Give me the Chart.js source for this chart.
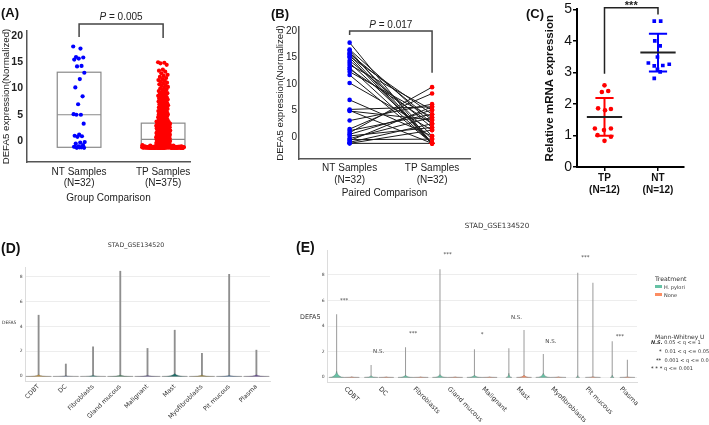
<!DOCTYPE html>
<html>
<head>
<meta charset="utf-8">
<script src="https://cdn.jsdelivr.net/npm/chart.js@4.4.1/dist/chart.umd.min.js"></script>
<style>
  body { margin: 0; width: 709px; height: 425px; overflow: hidden; position: relative; background: #fff; }
  canvas { position: absolute; }
  .t { position: absolute; white-space: nowrap; line-height: 1; transform: translateY(-50%); color: #333; }
  .panel { font: bold 13px "Liberation Sans", Arial, sans-serif; color: #111; }
  .mpl { font-family: "DejaVu Sans", sans-serif; }
  .sw { position: absolute; width: 7px; height: 3px; }
</style>
</head>
<body>
<canvas id="chartA" width="240" height="210" style="left:0;top:0"></canvas>
<canvas id="chartB" width="240" height="210" style="left:240px;top:0"></canvas>
<canvas id="chartC" width="229" height="210" style="left:480px;top:0"></canvas>
<canvas id="chartD" width="280" height="210" style="left:0;top:215px"></canvas>
<canvas id="chartE" width="429" height="210" style="left:280px;top:215px"></canvas>

<div class="t panel" style="left:1px;top:12px">(A)</div>
<div class="t panel" style="left:271px;top:13px">(B)</div>
<div class="t panel" style="left:526px;top:13px">(C)</div>
<div class="t panel" style="left:1px;top:248px;font-size:14px">(D)</div>
<div class="t panel" style="left:296px;top:247px;font-size:14px">(E)</div>

<div class="t mpl" style="left:136px;top:245px;font-size:6.3px;transform:translate(-50%,-50%)">STAD_GSE134520</div>
<div class="t mpl" style="left:497px;top:226px;font-size:7.2px;transform:translate(-50%,-50%)">STAD_GSE134520</div>
<div class="t mpl" style="left:2px;top:323px;font-size:4.5px">DEFA5</div>
<div class="t mpl" style="left:300px;top:317px;font-size:6.4px">DEFA5</div>

<div class="t mpl" style="left:655px;top:279px;font-size:6.2px">Treatment</div>
<div class="sw" style="left:655px;top:285px;background:#66c2a5"></div>
<div class="t mpl" style="left:664px;top:287px;font-size:5px">H. pylori</div>
<div class="sw" style="left:655px;top:293px;background:#fc8d62"></div>
<div class="t mpl" style="left:664px;top:295px;font-size:5px">None</div>
<div class="t mpl" style="left:655px;top:337px;font-size:6px">Mann-Whitney U</div>
<div class="t mpl" style="left:651px;top:342px;font-size:5px"><b><i>N.S.</i></b> 0.05 &lt; q &lt;= 1</div>
<div class="t mpl" style="left:659px;top:351px;font-size:5px"><b>*</b>&nbsp; 0.01 &lt; q &lt;= 0.05</div>
<div class="t mpl" style="left:656px;top:360px;font-size:5px"><b>**</b>&nbsp; 0.001 &lt; q &lt;= 0.01</div>
<div class="t mpl" style="left:651px;top:368px;font-size:5px"><b>* * *</b> q &lt;= 0.001</div>

<script>
// ---- (A) group comparison ----
const groupsA = ["NT Samples", "TP Samples"];
const sizesA = ["(N=32)", "(N=375)"];
const ntA = [18.0, 17.6, 16.0, 15.9, 15.7, 15.5, 14.3, 14.2, 13.0, 11.8, 10.2, 8.5, 7.0, 5.1, 5.0, 5.0,
  3.3, 1.2, 1.0, 0.9, 0.8, -0.2, -0.3, -0.5, -0.8, -1.0, -1.1, -1.2, -1.3, -1.3, -1.2, -1.1];
const tpA = [
  15.0, 14.9, 14.8, 14.5, 13.6, 13.4, 13.2, 12.9, 12.6, 12.4, 12.2, 12.0,
  11.8, 11.6, 11.5, 11.3, 11.1, 11.0, 10.8, 10.6, 10.5, 10.3, 10.1, 10.0, 9.8, 9.7, 9.5,
  9.4, 9.2, 9.1, 9.0, 8.9, 8.8, 8.7, 8.6, 8.5, 8.4, 8.3, 8.2, 8.1, 8.0, 8.0,
  7.9, 7.8, 7.8, 7.7, 7.6, 7.5, 7.4, 7.3, 7.2, 7.1, 7.0, 7.0, 6.9, 6.8, 6.7, 6.6, 6.5, 6.4, 6.4, 6.3,
  6.2, 6.1, 6.0, 6.0, 5.9, 5.8, 5.7, 5.6, 5.6, 5.5, 5.4, 5.3, 5.3, 5.2, 5.1, 5.1, 5.0, 5.0, 5.0, 5.0,
  4.9, 4.9, 4.8, 4.8, 4.7, 4.6, 4.6, 4.5, 4.4, 4.4, 4.3, 4.2, 4.2, 4.1, 4.0, 4.0, 3.9, 3.9, 3.8, 3.8,
  3.7, 3.7, 3.6, 3.6, 3.5, 3.5, 3.4, 3.4, 3.3, 3.3, 3.2, 3.2, 3.1, 3.1, 3.1, 3.0, 3.0, 3.0, 3.0, 3.0,
  2.9, 2.9, 2.8, 2.8, 2.8, 2.7, 2.7, 2.6, 2.6, 2.6, 2.5, 2.5, 2.4, 2.4, 2.4, 2.3, 2.3, 2.2, 2.2, 2.2,
  2.1, 2.1, 2.0, 2.0, 2.0, 1.9, 1.9, 1.8, 1.8, 1.8, 1.7, 1.7, 1.6, 1.6, 1.6, 1.5, 1.5, 1.4, 1.4, 1.4,
  1.3, 1.3, 1.2, 1.2, 1.2, 1.1, 1.1, 1.0, 1.0, 1.0,
  0.9, 0.9, 0.9, 0.8, 0.8, 0.8, 0.7, 0.7, 0.7, 0.6, 0.6, 0.6, 0.5, 0.5, 0.5, 0.4, 0.4, 0.4, 0.3, 0.3,
  0.3, 0.2, 0.2, 0.2, 0.1, 0.1, 0.1, 0.0, 0.0, 0.0, -0.1, -0.1, -0.1, -0.2, -0.2, -0.2, -0.3, -0.3, -0.3, -0.4,
  -0.4, -0.4, -0.5, -0.5, -0.5, -0.6, -0.6, -0.6, -0.7, -0.7,
  -1.2, -1.3, -1.2, -1.1, -1.2, -1.3, -1.2, -1.0, -1.2, -1.3, -1.1, -1.2, -0.9, -1.2, -1.3, -1.2, -1.1,
  -1.3, -1.2, -1.2, -1.1, -1.3, -1.2, -1.0, -1.2, -1.2, -1.3, -1.1, -1.2, -1.2, -0.9, -1.3, -1.2, -1.2,
  -1.2, -1.1, -1.3, -1.2, -1.2, -1.0, -1.3, -1.2, -1.1, -1.2, -1.3, -1.2, -0.8, -1.2, -1.1, -1.3, -1.2,
  -1.1, -1.2, -1.3, -1.2, -0.9, -1.2, -1.3, -1.1, -1.2, -1.2, -1.3, -1.0, -1.2, -1.1, -1.3, -1.2, -1.2,
  -1.3, -1.2, -1.1, -1.2, -1.3, -1.2, -1.0, -1.2, -1.3, -1.1, -1.2, -1.2, -0.9, -1.3, -1.2, -1.1, -1.2,
  -1.2, -1.3, -1.2, -1.1, -1.2, -1.3, -1.2, -1.0, -1.1, -1.3, -1.2, -1.2, -1.1, -1.2, -1.3, -0.8, -1.2,
  -1.1, -1.2, -1.3, -1.2, -1.2, -1.0, -1.3, -1.2, -1.1, -1.2, -1.3, -1.2, -0.9, -1.2, -1.1, -1.3, -1.2,
  -1.3, -1.2, -1.2, -1.1, -1.3, -1.2, -1.0, -1.2, -1.2, -1.3, -1.1, -1.2, -1.2, -1.3, -1.2, -1.1, -1.2,
  -1.2, -1.1, -1.3, -1.2, -1.2, -0.9, -1.3, -1.2, -1.1, -1.2, -1.3, -1.2, -1.0, -1.2, -1.1, -1.3, -1.2
];
const boxLowA = [-1.2, -1.2];
const boxMedA = [5.0, 0.3];
const boxHighA = [13.1, 3.4];
const pValueA = "0.005";
const yTicksAB = [0, 5, 10, 15, 20];

// ---- (B) paired comparison ----
const groupsB = ["NT Samples", "TP Samples"];
const sizesB = ["(N=32)", "(N=32)"];
const ntB = [17.8, 16.5, 16.3, 15.9, 15.7, 15.5, 15.2, 15.0, 14.4, 14.0, 13.6, 13.1, 12.8, 12.3, 11.7, 10.2,
  7.0, 5.2, 5.0, 4.9, 3.1, 1.5, 1.2, 0.8, 0.5, 0.2, -0.3, -0.5, -0.7, -1.0, -1.2, -1.2];
const tpB = [-1.2, 2.5, -1.2, 0.2, 3.2, -1.2, 4.3, -1.2, 1.8, -0.4, 5.1, -1.2, 2.5, 3.7, -1.2, 1.3,
  0.2, 5.7, -1.2, 3.2, 6.2, 8.2, 4.3, 9.4, 5.1, 1.8, 3.7, -0.4, 5.7, 2.5, -1.2, 1.3];
const pValueB = "0.017";

// ---- (C) qPCR ----
const groupsC = ["TP", "NT"];
const sizesC = ["(N=12)", "(N=12)"];
const tpC = [2.59, 2.38, 2.41, 1.86, 1.84, 1.80, 1.22, 1.22, 1.17, 1.01, 0.96, 0.83];
const tpJitterC = [0, -0.05, 0.07, -0.12, 0.12, 0.01, -0.18, 0.12, -0.01, -0.13, 0.12, 0];
const ntC = [4.63, 4.63, 4.0, 3.84, 3.49, 3.30, 3.26, 3.21, 3.22, 3.1, 3.02, 2.81];
const ntJitterC = [-0.07, 0.05, -0.06, 0.04, -0.01, -0.18, 0.21, -0.07, 0.09, -0.01, 0.04, -0.07];
const meanC = [1.59, 3.63];
const sdC = [0.6, 0.6];
const yTicksC = [0, 1, 2, 3, 4, 5];

// ---- (D)/(E) single-cell violins ----
const cellTypes = ["CDBT", "DC", "Fibroblasts", "Gland mucous", "Malignant", "Mast", "Myofibroblasts", "Pit mucous", "Plasma"];
const maxD = [4.91, 0.97, 2.36, 8.46, 2.23, 3.7, 1.83, 8.21, 2.09];
const bodyD = [0.1, 0.05, 0.07, 0.08, 0.06, 0.2, 0.08, 0.06, 0.1];
const colorsD = ["#c9963a", "#6d7fa0", "#3b8c84", "#4f8c6a", "#6b5f9e", "#1d6f6a", "#a8903e", "#4a78a8", "#6a4c9c"];
const yTicksDE = [0, 2, 4, 6, 8];
const treatments = ["H. pylori", "None"];
const maxHpE = [4.92, 0.94, 2.33, 8.45, 2.17, 2.25, 1.8, 8.18, 2.8];
const maxNoneE = [0.04, 0.03, 0.03, 0.03, 0.03, 3.69, 0.03, 7.4, 1.35];
const bodyHpE = [0.45, 0.1, 0.15, 0.2, 0.15, 0.3, 0.3, 0.12, 0.15];
const bodyNoneE = [0.02, 0.02, 0.02, 0.02, 0.02, 0.15, 0.03, 0.05, 0.03];
const widthHpE = [1, 0.9, 1, 1, 1, 0.4, 1, 0.25, 0.25];
const widthNoneE = [1, 1, 1, 1, 1, 1, 1, 1, 1];
const sigE = ["***", "N.S.", "***", "***", "*", "N.S.", "N.S.", "***", "***"];
const sigYE = [5.96, 1.96, 3.37, 9.57, 3.29, 4.7, 2.75, 9.33, 3.14];

const ARIAL = '"Liberation Sans", Arial, sans-serif';
const DEJAVU = '"DejaVu Sans", sans-serif';
Chart.defaults.font.family = ARIAL;
Chart.defaults.color = "#222";
Chart.defaults.animation = false;
Chart.defaults.plugins.legend.display = false;
Chart.defaults.plugins.tooltip.enabled = false;

// spread points sideways like a strip plot
const jitter = i => ((i * 0.618034) % 1) * 2 - 1;
const fixTicks = list => s => { s.ticks = list.map(v => ({ value: v })); };

function drawBracket(chart, b) {
  const { ctx, scales: { x, y } } = chart;
  const x1 = x.getPixelForValue(b.from), x2 = x.getPixelForValue(b.to);
  const yt = y.getPixelForValue(b.top);
  ctx.save();
  ctx.strokeStyle = b.color;
  ctx.lineWidth = b.width;
  ctx.beginPath();
  ctx.moveTo(x1, y.getPixelForValue(b.leftEnd));
  ctx.lineTo(x1, yt);
  ctx.lineTo(x2, yt);
  ctx.lineTo(x2, y.getPixelForValue(b.rightEnd));
  ctx.stroke();
  // label made of parts (italic P etc.)
  let total = 0;
  b.parts.forEach(p => { ctx.font = p.font; p.w = ctx.measureText(p.text).width; total += p.w; });
  let cx = (x1 + x2) / 2 - total / 2;
  ctx.fillStyle = "#222";
  ctx.textBaseline = "middle";
  ctx.textAlign = "left";
  b.parts.forEach(p => { ctx.font = p.font; ctx.fillText(p.text, cx, yt - b.gap); cx += p.w; });
  ctx.restore();
}

// ---------- A ----------
new Chart(document.getElementById("chartA"), {
  type: "scatter",
  data: {
    datasets: [
      { data: ntA.map((v, i) => ({ x: 1 + jitter(i) * 0.07, y: v })), backgroundColor: "#0000ff", borderWidth: 0, pointRadius: 2.1 },
      { data: tpA.map((v, i) => ({ x: 2 + jitter(i) * (v <= -0.8 ? 0.25 : v < 4 ? 0.085 : 0.06), y: v })), backgroundColor: "#ff0000", borderWidth: 0, pointRadius: 2.1 }
    ]
  },
  options: {
    responsive: false,
    layout: { padding: { left: 0, top: 31, right: 50, bottom: 0 } },
    scales: {
      x: {
        type: "linear", min: 0.38, max: 2.32,
        afterBuildTicks: fixTicks([1, 2]),
        afterFit: s => { s.height = 48; },
        grid: { display: false, drawTicks: false },
        border: { color: "#555", width: 1.5 },
        ticks: { padding: 4, font: { size: 10, lineHeight: 1.15 }, callback: (v, i) => [groupsA[i], sizesA[i]] },
        title: { display: true, text: "Group Comparison", font: { size: 10 }, padding: { top: 2, bottom: 6 } }
      },
      y: {
        min: -4, max: 20.95,
        afterBuildTicks: fixTicks(yTicksAB),
        afterFit: s => { s.width = 27; },
        grid: { display: false, drawTicks: false },
        border: { color: "#555", width: 1.5 },
        ticks: { padding: 4, font: { size: 10.5, weight: "bold" } },
        title: { display: true, text: "DEFA5 expression(Normalized)", font: { size: 9.7 }, padding: { top: 0.5, bottom: 0 } }
      }
    }
  },
  plugins: [{
    id: "boxesA",
    beforeDatasetsDraw(chart) {
      const { ctx, scales: { x, y } } = chart;
      ctx.save();
      ctx.strokeStyle = "#8a8a8a";
      ctx.lineWidth = 1.2;
      groupsA.forEach((g, i) => {
        const l = x.getPixelForValue(i + 1 - 0.26), r = x.getPixelForValue(i + 1 + 0.26);
        const top = y.getPixelForValue(boxHighA[i]), bot = y.getPixelForValue(boxLowA[i]);
        ctx.strokeRect(l, top, r - l, bot - top);
        const m = y.getPixelForValue(boxMedA[i]);
        ctx.beginPath(); ctx.moveTo(l, m); ctx.lineTo(r, m); ctx.stroke();
      });
      ctx.restore();
    },
    afterDraw(chart) {
      drawBracket(chart, {
        from: 1, to: 2, top: 22.3, leftEnd: 19.8, rightEnd: 19.6, color: "#444", width: 1.5, gap: 7,
        parts: [{ text: "P", font: "italic 10px " + ARIAL }, { text: " = " + pValueA, font: "10px " + ARIAL }]
      });
    }
  }]
});

// ---------- B ----------
new Chart(document.getElementById("chartB"), {
  type: "scatter",
  data: {
    datasets: [
      { data: ntB.map(v => ({ x: 1, y: v })), backgroundColor: "#0000ff", borderWidth: 0, pointRadius: 2.3, order: 0 },
      { data: tpB.map(v => ({ x: 2, y: v })), backgroundColor: "#ff0000", borderWidth: 0, pointRadius: 2.3, order: 0 },
      ...ntB.map((v, i) => ({
        type: "line", data: [{ x: 1, y: v }, { x: 2, y: tpB[i] }],
        borderColor: "#1a1a1a", borderWidth: 1, pointRadius: 0, order: 1
      }))
    ]
  },
  options: {
    responsive: false,
    layout: { padding: { left: 35, top: 27, right: 10, bottom: 0 } },
    scales: {
      x: {
        type: "linear", min: 0.386, max: 2.46,
        afterBuildTicks: fixTicks([1, 2]),
        afterFit: s => { s.height = 51; },
        grid: { display: false, drawTicks: false },
        border: { color: "#555", width: 1.5 },
        ticks: { padding: 3, font: { size: 10, lineHeight: 1.2 }, callback: (v, i) => [groupsB[i], sizesB[i]] },
        title: { display: true, text: "Paired Comparison", font: { size: 10 }, padding: { top: 2, bottom: 11 } }
      },
      y: {
        min: -4.15, max: 20.75,
        afterBuildTicks: fixTicks(yTicksAB),
        afterFit: s => { s.width = 24; },
        grid: { display: false, drawTicks: false },
        border: { color: "#555", width: 1.5 },
        ticks: { padding: 2, font: { size: 10 } },
        title: { display: true, text: "DEFA5 expression(Normalized)", font: { size: 9.7 }, padding: { top: 0, bottom: 0 } }
      }
    }
  },
  plugins: [{
    id: "bracketB",
    afterDraw(chart) {
      drawBracket(chart, {
        from: 1, to: 2, top: 20.0, leftEnd: 19.25, rightEnd: 12.1, color: "#444", width: 1.5, gap: 6,
        parts: [{ text: "P", font: "italic 10px " + ARIAL }, { text: " = " + pValueB, font: "10px " + ARIAL }]
      });
    }
  }]
});

// ---------- C ----------
new Chart(document.getElementById("chartC"), {
  type: "scatter",
  data: {
    datasets: [
      { data: tpC.map((v, i) => ({ x: 1 + tpJitterC[i], y: v })), backgroundColor: "#ff0000", borderWidth: 0, pointRadius: 2.3 },
      { data: ntC.map((v, i) => ({ x: 2 + ntJitterC[i], y: v })), backgroundColor: "#0000ff", borderWidth: 0, pointRadius: 2.6, pointStyle: "rect" }
    ]
  },
  options: {
    responsive: false,
    layout: { padding: { left: 63, top: 9, right: 25, bottom: 0 } },
    scales: {
      x: {
        type: "linear", min: 0.486, max: 2.486,
        afterBuildTicks: fixTicks([1, 2]),
        afterFit: s => { s.height = 43; },
        grid: { display: true, drawOnChartArea: false, drawTicks: true, tickLength: 4, color: "#000", lineWidth: 1.5 },
        border: { color: "#000", width: 2 },
        ticks: { padding: 1, color: "#111", font: { size: 10, weight: "bold", lineHeight: 1.2 }, callback: (v, i) => [groupsC[i], sizesC[i]] }
      },
      y: {
        min: 0, max: 5,
        afterBuildTicks: fixTicks(yTicksC),
        afterFit: s => { s.width = 34; },
        grid: { display: true, drawOnChartArea: false, drawTicks: true, tickLength: 4, color: "#000", lineWidth: 1.5 },
        border: { color: "#000", width: 2 },
        ticks: { padding: 1, color: "#111", font: { size: 14 } },
        title: { display: true, text: "Relative mRNA expression", color: "#111", font: { size: 11.5, weight: "bold" }, padding: { top: 0, bottom: 0 } }
      }
    }
  },
  plugins: [{
    id: "summaryC",
    afterDatasetsDraw(chart) {
      const { ctx, scales: { x, y } } = chart;
      const cols = ["#ff0000", "#0000ff"];
      ctx.save();
      ctx.lineWidth = 2;
      groupsC.forEach((g, i) => {
        const cx = x.getPixelForValue(i + 1);
        const hi = y.getPixelForValue(meanC[i] + sdC[i]), lo = y.getPixelForValue(meanC[i] - sdC[i]);
        const cap = x.getPixelForValue(i + 1.17) - cx, half = x.getPixelForValue(i + 1.33) - cx;
        ctx.strokeStyle = cols[i];
        ctx.beginPath();
        ctx.moveTo(cx, hi); ctx.lineTo(cx, lo);
        ctx.moveTo(cx - cap, hi); ctx.lineTo(cx + cap, hi);
        ctx.moveTo(cx - cap, lo); ctx.lineTo(cx + cap, lo);
        ctx.stroke();
        const m = y.getPixelForValue(meanC[i]);
        ctx.strokeStyle = "#222";
        ctx.beginPath(); ctx.moveTo(cx - half, m); ctx.lineTo(cx + half, m); ctx.stroke();
      });
      ctx.restore();
    },
    afterDraw(chart) {
      drawBracket(chart, {
        from: 1, to: 2, top: 5.05, leftEnd: 2.96, rightEnd: 4.84, color: "#222", width: 1.5, gap: 2,
        parts: [{ text: "***", font: "bold 11px " + ARIAL }]
      });
    }
  }]
});

// ---------- violin helpers ----------
function drawViolin(ctx, x, yBase, yTop, halfW, color) {
  ctx.beginPath();
  ctx.moveTo(x - halfW, yBase);
  ctx.quadraticCurveTo(x - halfW * 0.15, yBase, x, yTop);
  ctx.quadraticCurveTo(x + halfW * 0.15, yBase, x + halfW, yBase);
  ctx.closePath();
  ctx.fillStyle = color;
  ctx.fill();
  ctx.strokeStyle = "rgba(90,90,90,0.6)";
  ctx.lineWidth = 0.5;
  ctx.stroke();
}

const mplY = (size, width, ticks) => ({
  afterBuildTicks: fixTicks(ticks),
  afterFit: s => { s.width = width; },
  grid: { color: "#e8e8e8", lineWidth: 0.8, drawTicks: false },
  border: { color: "#dcdcdc", width: 1 },
  ticks: { padding: 2.5, color: "#444", font: { family: DEJAVU, size: size } }
});

// ---------- D ----------
new Chart(document.getElementById("chartD"), {
  type: "bar",
  data: {
    labels: cellTypes,
    datasets: [{ data: maxD.map(v => [0, v]), backgroundColor: "#8f8f8f", maxBarThickness: 1.2, barPercentage: 1, categoryPercentage: 1 }]
  },
  options: {
    responsive: false,
    layout: { padding: { left: 0, top: 52, right: 10, bottom: 0 } },
    scales: {
      x: {
        afterFit: s => { s.height = 44; },
        grid: { display: false, drawTicks: false },
        border: { color: "#dcdcdc", width: 1 },
        ticks: { autoSkip: false, minRotation: 45, maxRotation: 45, padding: 2, color: "#333", font: { family: DEJAVU, size: 6.3 } }
      },
      y: { min: -0.4, max: 8.8, ...mplY(4.5, 25, yTicksDE) }
    }
  },
  plugins: [{
    id: "violinD",
    afterDatasetsDraw(chart) {
      const { ctx, scales: { x, y } } = chart;
      const base = y.getPixelForValue(-0.03);
      const half = (x.width / cellTypes.length) * 0.47;
      ctx.save();
      chart.getDatasetMeta(0).data.forEach((bar, i) => {
        drawViolin(ctx, bar.x, base, y.getPixelForValue(bodyD[i]), half, colorsD[i]);
      });
      ctx.restore();
    }
  }]
});

// ---------- E ----------
new Chart(document.getElementById("chartE"), {
  type: "bar",
  data: {
    labels: cellTypes,
    datasets: [
      { label: treatments[0], data: maxHpE.map(v => [0, v]), backgroundColor: "#9a9a9a", maxBarThickness: 1, barPercentage: 1, categoryPercentage: 0.88 },
      { label: treatments[1], data: maxNoneE.map(v => [0, v]), backgroundColor: "#9a9a9a", maxBarThickness: 1, barPercentage: 1, categoryPercentage: 0.88 }
    ]
  },
  options: {
    responsive: false,
    layout: { padding: { left: 0, top: 35, right: 72, bottom: 0 } },
    scales: {
      x: {
        afterFit: s => { s.height = 43; },
        grid: { display: false, drawTicks: false },
        border: { color: "#dcdcdc", width: 1 },
        ticks: { display: false }
      },
      y: { min: -0.39, max: 9.96, ...mplY(4.5, 47, yTicksDE) }
    }
  },
  plugins: [{
    id: "violinE",
    afterDatasetsDraw(chart) {
      const { ctx, scales: { x, y } } = chart;
      const base = y.getPixelForValue(-0.03);
      const half = (x.width / cellTypes.length) * 0.22;
      ctx.save();
      [[bodyHpE, widthHpE, "#66c2a5"], [bodyNoneE, widthNoneE, "#fc8d62"]].forEach(([body, w, col], d) => {
        chart.getDatasetMeta(d).data.forEach((bar, i) => {
          drawViolin(ctx, bar.x, base, y.getPixelForValue(body[i]), half * w[i], col);
        });
      });
      ctx.restore();
    },
    afterDraw(chart) {
      const { ctx, chartArea, scales: { x, y } } = chart;
      ctx.save();
      ctx.fillStyle = "#444";
      ctx.textAlign = "center";
      ctx.textBaseline = "middle";
      ctx.font = "5.5px " + DEJAVU;
      sigE.forEach((s, i) => ctx.fillText(s, x.getPixelForValue(i), y.getPixelForValue(sigYE[i])));
      // labels slanting down to the right
      ctx.fillStyle = "#333";
      ctx.textAlign = "left";
      ctx.font = "6.5px " + DEJAVU;
      cellTypes.forEach((t, i) => {
        ctx.save();
        ctx.translate(x.getPixelForValue(i) + 1, chartArea.bottom + 6);
        ctx.rotate(Math.PI / 4);
        ctx.fillText(t, 0, 0);
        ctx.restore();
      });
      ctx.restore();
    }
  }]
});
</script>
</body>
</html>
